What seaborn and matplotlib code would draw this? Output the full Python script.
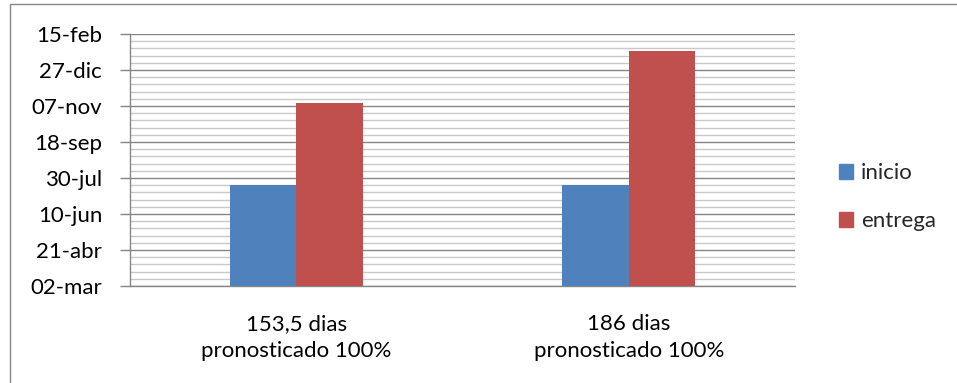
import matplotlib
matplotlib.use("Agg")
import matplotlib.pyplot as plt
import matplotlib.dates as mdates
import matplotlib.patches as mpatches
import numpy as np
import pandas as pd
import seaborn as sns

# Data
categorias = ["153,5 dias\npronosticado 100%", "186 dias\npronosticado 100%"]
series = ["inicio", "entrega"]
inicio = ["2012-07-20", "2012-07-20"]
entrega = ["2012-11-11", "2013-01-22"]
colores = ["#4F81BD", "#C0504D"]
meses = ["ene", "feb", "mar", "abr", "may", "jun", "jul", "ago", "sep", "oct", "nov", "dic"]
eje_inicio = "2012-03-02"
eje_fin = "2013-02-15"
paso_mayor = 50
paso_menor = 10

df = pd.DataFrame({
    "categoria": categorias * 2,
    "serie": [series[0]] * len(categorias) + [series[1]] * len(categorias),
    "fecha": pd.to_datetime(inicio + entrega),
})
df["valor"] = mdates.date2num(df["fecha"])

sns.set_theme(style="white")
plt.rcParams["font.family"] = ["Lato", "DejaVu Sans"]

fs = 16

fig = plt.figure(figsize=(9.57, 3.83), dpi=100)
ax = fig.add_axes([130 / 957, 1 - 286 / 383, 665 / 957, 252 / 383])

sns.barplot(data=df, x="categoria", y="valor", hue="serie", palette=colores,
            width=0.4, dodge=True, ax=ax, saturation=1, zorder=3, legend=False,
            linewidth=0)

y0 = mdates.date2num(pd.Timestamp(eje_inicio))
y1 = mdates.date2num(pd.Timestamp(eje_fin))
ax.set_ylim(y0, y1)
ax.set_xlim(-0.5, len(categorias) - 0.5)

mayores = np.arange(y0, y1 + 0.5, paso_mayor)
menores = np.arange(y0, y1 + 0.5, paso_menor)
ax.set_yticks(mayores)
ax.set_yticks(menores, minor=True)

def etiqueta(v):
    d = mdates.num2date(v)
    return f"{d.day:02d}-{meses[d.month - 1]}"

ax.set_yticklabels([etiqueta(v) for v in mayores], fontsize=fs, color="#000000")
ax.tick_params(axis="y", which="major", length=7, width=1, color="#868686",
               left=True, pad=13)
ax.tick_params(axis="y", which="minor", length=0)
ax.tick_params(axis="x", length=0, pad=20, labelsize=fs, labelcolor="#000000")
for t in ax.get_xticklabels():
    t.set_linespacing(1.45)

ax.grid(axis="y", which="major", color="#868686", linewidth=1.0, zorder=0)
ax.grid(axis="y", which="minor", color="#c8c8c8", linewidth=1.0, zorder=0)
ax.set_axisbelow(True)

for s in ["top", "right"]:
    ax.spines[s].set_visible(False)
for s in ["left", "bottom"]:
    ax.spines[s].set_color("#868686")
    ax.spines[s].set_linewidth(1.0)

ax.set_xlabel("")
ax.set_ylabel("")

handles = [mpatches.Patch(color=c, label=s) for s, c in zip(series, colores)]
fig.legend(handles=handles, loc="center left", bbox_to_anchor=(819 / 957, 1 - 197 / 383),
           frameon=False, fontsize=fs, handlelength=0.65, handleheight=0.65,
           handletextpad=0.35, labelspacing=1.25)

# outer chart border
fig.add_artist(mpatches.Rectangle((10 / 957, -0.02), 1.0, 1 - 4 / 383 + 0.02,
                                  transform=fig.transFigure, fill=False,
                                  edgecolor="#868686", linewidth=1.0))

fig.savefig("out.png", dpi=100)
